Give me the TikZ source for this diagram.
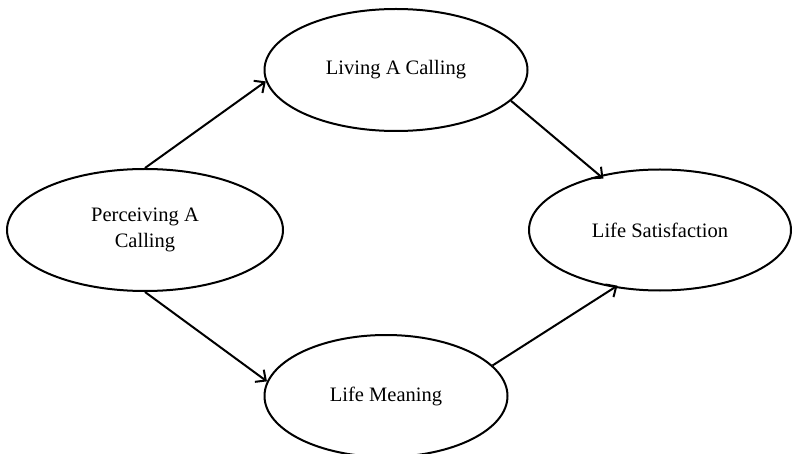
\documentclass[tikz,border=0pt]{standalone}
\usepackage{fontspec}
\setmainfont{Liberation Serif}
\usetikzlibrary{shapes.geometric,arrows.meta}
\begin{document}
\begin{tikzpicture}[x=1pt,y=-1pt,
  construct/.style={ellipse,draw,line width=2pt,inner sep=0pt,
    font=\fontsize{20.5}{26}\selectfont,align=center},
  link/.style={line width=2pt,-{Straight Barb[length=8pt,width=15pt,line width=2pt]}}]
\useasboundingbox (0,0) rectangle (792,454);
\node[construct,minimum width=276pt,minimum height=122pt] (pc) at (145,230) {Perceiving A\\Calling};
\node[construct,minimum width=263pt,minimum height=122pt] (lc) at (396,70) {Living A Calling};
\node[construct,minimum width=243pt,minimum height=122pt] (lm) at (386,396) {Life Meaning};
\node[construct,minimum width=262pt,minimum height=121pt] (ls) at (660,230) {Life Satisfaction};
\draw[link] (pc.north) -- (lc.185);
\draw[link] (lc.345) -- ([xshift=-4pt,yshift=-5pt]ls.133);
\draw[link] (pc.south) -- (lm.173);
\draw[link] (lm.16) -- ([xshift=-3pt,yshift=3pt]ls.236);
\end{tikzpicture}
\end{document}
